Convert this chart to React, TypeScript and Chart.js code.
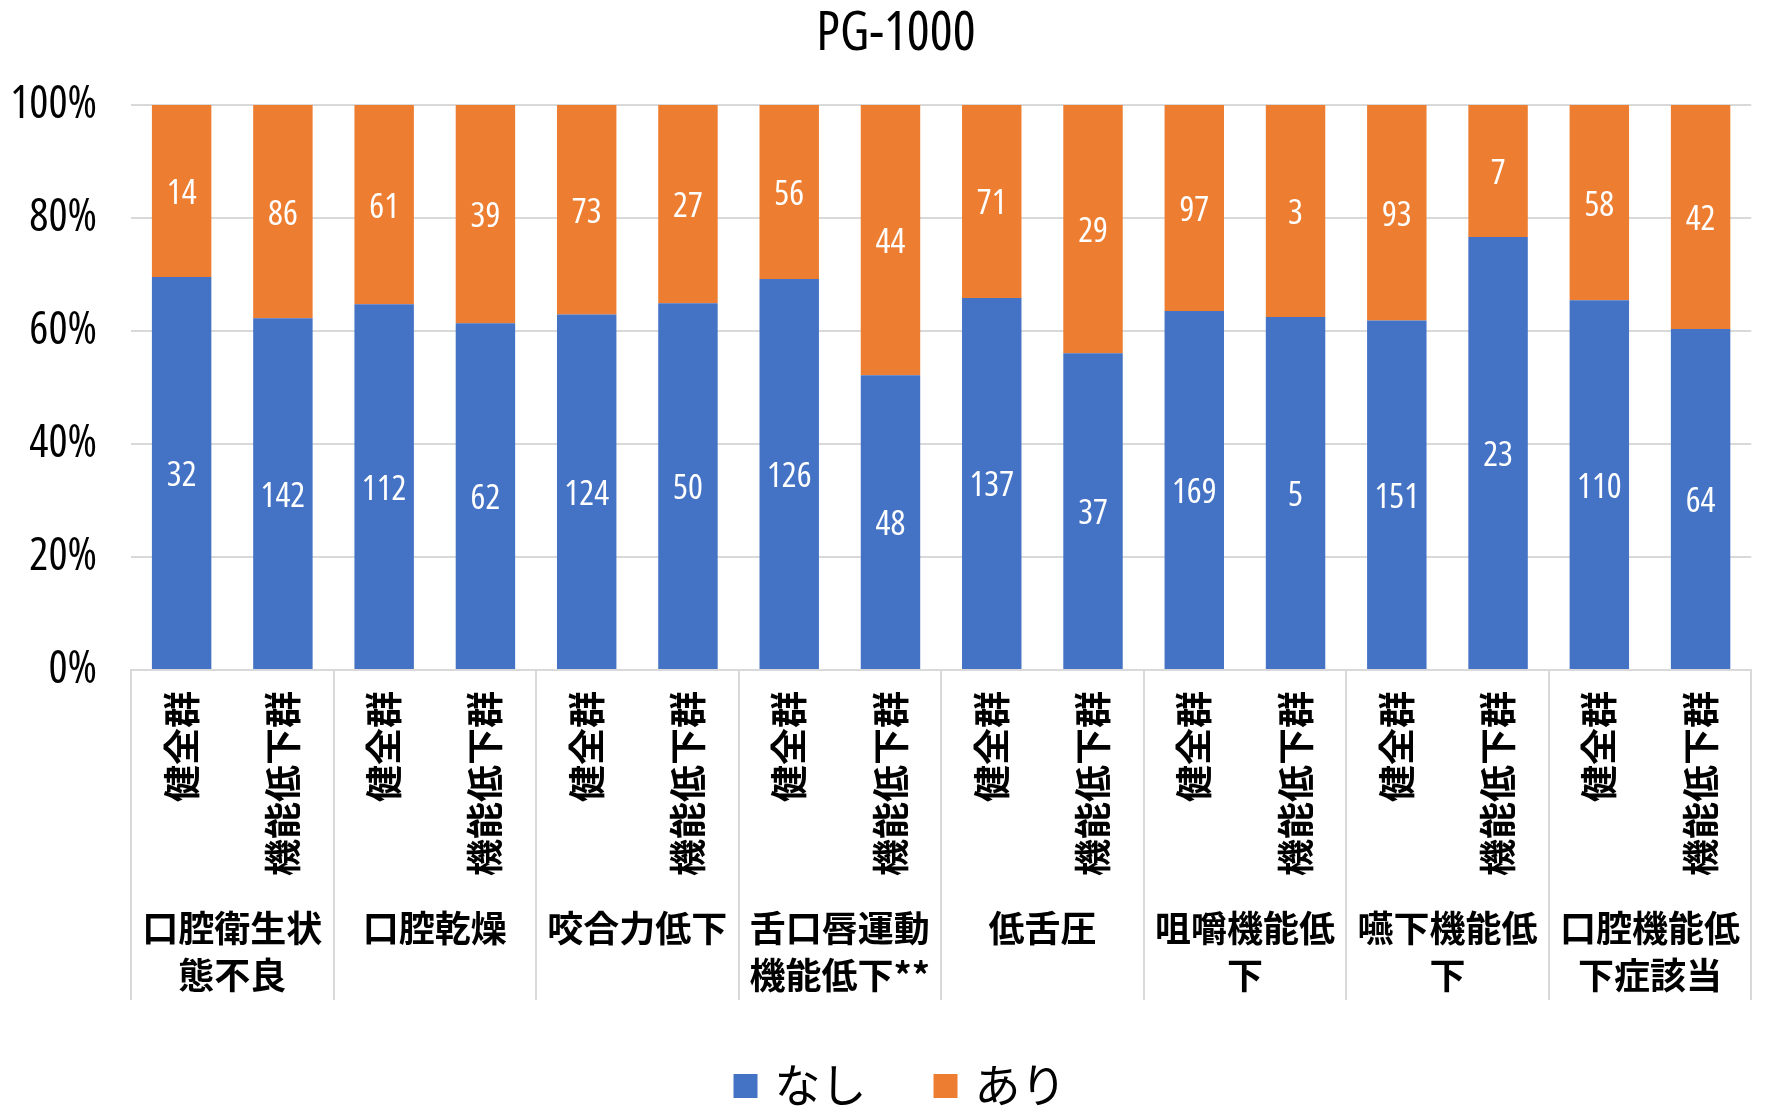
import React, { useEffect, useRef } from 'react';
import { Chart, registerables } from 'chart.js';

Chart.register(...registerables);

// ---- data ----
const groupLabels: string[][] = [
  ['口腔衛生状', '態不良'],
  ['口腔乾燥'],
  ['咬合力低下'],
  ['舌口唇運動', '機能低下**'],
  ['低舌圧'],
  ['咀嚼機能低', '下'],
  ['嚥下機能低', '下'],
  ['口腔機能低', '下症該当'],
];
const subLabels = ['健全群', '機能低下群'];
const categories: string[] = groupLabels.flatMap(() => subLabels);

const nashiCounts = [32, 142, 112, 62, 124, 50, 126, 48, 137, 37, 169, 5, 151, 23, 110, 64];
const ariCounts = [14, 86, 61, 39, 73, 27, 56, 44, 71, 29, 97, 3, 93, 7, 58, 42];
const yTicks = [0, 20, 40, 60, 80, 100];

const seriesNames = ['なし', 'あり'];
const seriesColors = ['#4472C4', '#ED7D31'];

// 100% stacked shares derived from the counts
const nashiPct = nashiCounts.map((n, i) => (n / (n + ariCounts[i])) * 100);
const ariPct = ariCounts.map((a, i) => (a / (nashiCounts[i] + a)) * 100);

const CJK = '"Noto Sans CJK JP", "Noto Sans", sans-serif';
const NARROW = '"Open Sans", "Roboto Condensed", sans-serif';

const overlayPlugin = {
  id: 'overlay',
  afterLayout(chart: any) {
    // centre the title slightly right of the canvas centre, as in the source
    if (chart.titleBlock) chart.titleBlock.left += 26;
  },
  afterDatasetsDraw(chart: any) {
    const ctx = chart.ctx;
    ctx.save();
    ctx.fillStyle = '#FFFFFF';
    ctx.font = `condensed 35px ${NARROW}`;
    ctx.textAlign = 'center';
    ctx.textBaseline = 'middle';
    chart.data.datasets.forEach((ds: any, di: number) => {
      const meta = chart.getDatasetMeta(di);
      meta.data.forEach((bar: any, i: number) => {
        const p = bar.getCenterPoint();
        ctx.fillText(String(ds.counts[i]), p.x, p.y + 3);
      });
    });
    ctx.restore();
  },
  afterDraw(chart: any) {
    const ctx = chart.ctx;
    const xs = chart.scales.x;
    const x2 = chart.scales.x2;
    // group dividers of the multi-level category axis
    ctx.save();
    ctx.strokeStyle = '#D9D9D9';
    ctx.lineWidth = 2;
    for (let g = 0; g <= groupLabels.length; g++) {
      const px = Math.round(xs.getPixelForValue(g * subLabels.length - 0.5));
      ctx.beginPath();
      ctx.moveTo(px, xs.top);
      ctx.lineTo(px, x2.bottom);
      ctx.stroke();
    }
    ctx.restore();

    // legend
    ctx.save();
    ctx.font = `46px ${CJK}`;
    ctx.textBaseline = 'middle';
    ctx.textAlign = 'left';
    const box = 24;
    const gapText = 17;
    const gapItem = 67;
    const widths = seriesNames.map((s) => ctx.measureText(s).width);
    let total = 0;
    widths.forEach((w, i) => {
      total += box + gapText + w + (i < widths.length - 1 ? gapItem : 0);
    });
    const center = (chart.titleBlock.left + chart.titleBlock.right) / 2 + 4;
    let x = center - total / 2;
    const cy = 1086;
    seriesNames.forEach((s, i) => {
      ctx.fillStyle = seriesColors[i];
      ctx.fillRect(x, cy - box / 2, box, box);
      x += box + gapText;
      ctx.fillStyle = '#000';
      ctx.fillText(s, x, cy - 1);
      x += widths[i] + gapItem;
    });
    ctx.restore();
  },
};

export default function App() {
  const canvasRef = useRef<HTMLCanvasElement | null>(null);

  useEffect(() => {
    document.body.style.margin = '0';
    const canvas = canvasRef.current;
    if (!canvas) return;
    const chart = new Chart(canvas, {
      type: 'bar',
      data: {
        labels: categories,
        datasets: [
          {
            label: seriesNames[0],
            data: nashiPct,
            counts: nashiCounts,
            backgroundColor: seriesColors[0],
            categoryPercentage: 1,
            barPercentage: 0.587,
          } as any,
          {
            label: seriesNames[1],
            data: ariPct,
            counts: ariCounts,
            backgroundColor: seriesColors[1],
            categoryPercentage: 1,
            barPercentage: 0.587,
          } as any,
        ],
      },
      options: {
        animation: false,
        responsive: true,
        maintainAspectRatio: false,
        layout: { padding: { left: 0, right: 0, top: 0, bottom: 112 } },
        plugins: {
          legend: { display: false },
          tooltip: { enabled: false },
          title: {
            display: true,
            text: 'PG-1000',
            color: '#000',
            font: { family: NARROW, size: 54, weight: 'condensed', lineHeight: 1.15 },
            padding: { top: 4, bottom: 39 },
          },
        },
        scales: {
          x: {
            stacked: true,
            offset: true,
            grid: { display: false, drawTicks: false },
            border: { display: true, color: '#D9D9D9', width: 2 },
            ticks: {
              autoSkip: false,
              minRotation: 90,
              maxRotation: 90,
              padding: 21,
              color: '#000',
              font: { family: CJK, size: 37, weight: 'bold' },
            },
            afterFit: (s: any) => {
              s.height = 230;
            },
          },
          x2: {
            type: 'category',
            labels: groupLabels as any,
            position: 'bottom',
            offset: true,
            grid: { display: false, drawTicks: false },
            border: { display: false },
            ticks: {
              autoSkip: false,
              minRotation: 0,
              maxRotation: 0,
              padding: 5,
              color: '#000',
              font: { family: CJK, size: 36, weight: 'bold', lineHeight: 1.3 },
            },
            afterFit: (s: any) => {
              s.height = 100;
            },
          },
          y: {
            stacked: true,
            min: 0,
            max: 100,
            grid: { color: '#D9D9D9', lineWidth: 2, drawTicks: false },
            border: { display: false },
            ticks: {
              padding: 34,
              color: '#000',
              font: { family: NARROW, size: 45, weight: 'condensed' },
              callback: (v: any) => `${v}%`,
            },
            afterBuildTicks: (s: any) => {
              s.ticks = yTicks.map((v) => ({ value: v }));
            },
            afterFit: (s: any) => {
              s.width = 131;
            },
          },
        } as any,
      },
      plugins: [overlayPlugin],
    });
    return () => chart.destroy();
  }, []);

  return (
    <div style={{ position: 'relative', width: '1766px', height: '1112px' }}>
      <canvas ref={canvasRef} />
    </div>
  );
}
